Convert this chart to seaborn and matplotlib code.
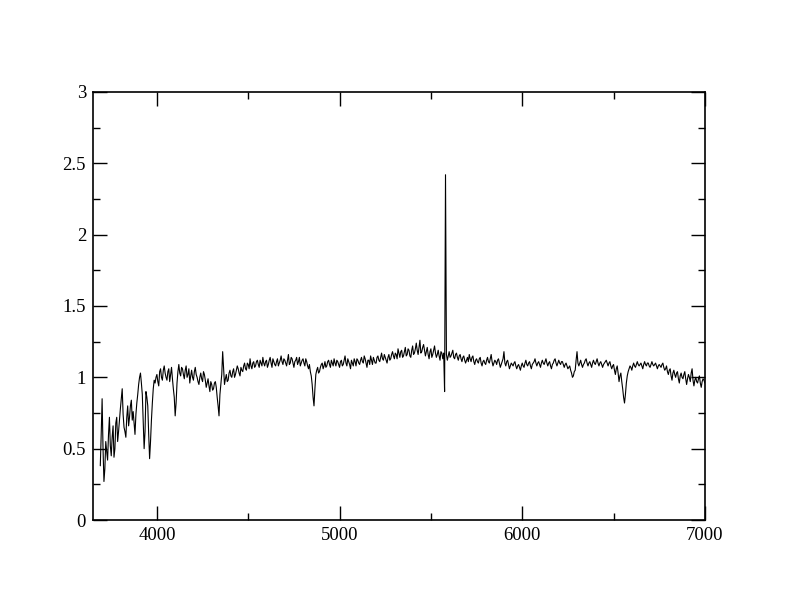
import matplotlib

matplotlib.use("Agg")
import matplotlib.pyplot as plt  # noqa: E402
import numpy as np  # noqa: E402
import seaborn as sns  # noqa: E402
from matplotlib.ticker import MultipleLocator  # noqa: E402

# ---------------------------------------------------------------------------
# Data: flux.
# "flux_*" rows hold the samples at 3690, 3700, ... 7000 A,
# "half_*" rows the samples in between (3695, 3705, ... 6995 A).
# ---------------------------------------------------------------------------
WAVE_START = 3690
WAVE_STEP = 5

flux_3690 = [0.38, 0.85, 0.27, 0.55, 0.42, 0.72, 0.45, 0.66, 0.50, 0.72]
flux_3790 = [0.62, 0.78, 0.92, 0.65, 0.58, 0.80, 0.72, 0.84, 0.76, 0.60]
flux_3890 = [0.82, 0.95, 1.03, 0.88, 0.50, 0.90, 0.80, 0.43, 0.70, 0.92]
flux_3990 = [0.96, 1.02, 0.94, 1.06, 0.98, 1.08, 1.00, 1.04, 0.97, 1.07]
flux_4090 = [0.92, 0.73, 0.96, 1.09, 1.01, 1.06, 0.99, 1.08, 1.02, 0.96]
flux_4190 = [1.05, 0.98, 1.07, 1.00, 0.95, 1.03, 0.97, 1.02, 0.93, 0.99]
flux_4290 = [0.90, 0.95, 0.92, 0.97, 0.86, 0.73, 0.95, 1.18, 0.95, 1.02]
flux_4390 = [0.98, 1.05, 1.00, 1.06, 1.02, 1.08, 1.03, 1.07, 1.04, 1.10]
flux_4490 = [1.05, 1.09, 1.13, 1.06, 1.11, 1.08, 1.12, 1.07, 1.10, 1.14]
flux_4590 = [1.08, 1.12, 1.09, 1.14, 1.07, 1.11, 1.08, 1.13, 1.10, 1.15]
flux_4690 = [1.09, 1.12, 1.08, 1.16, 1.10, 1.13, 1.07, 1.12, 1.09, 1.14]
flux_4790 = [1.10, 1.13, 1.08, 1.11, 1.06, 1.04, 0.95, 0.80, 1.02, 1.07]
flux_4890 = [1.04, 1.09, 1.06, 1.11, 1.08, 1.12, 1.07, 1.10, 1.13, 1.08]
flux_4990 = [1.11, 1.07, 1.12, 1.09, 1.15, 1.08, 1.11, 1.06, 1.10, 1.13]
flux_5090 = [1.08, 1.12, 1.09, 1.14, 1.10, 1.13, 1.07, 1.12, 1.15, 1.09]
flux_5190 = [1.12, 1.10, 1.15, 1.11, 1.17, 1.12, 1.14, 1.10, 1.16, 1.13]
flux_5290 = [1.18, 1.13, 1.16, 1.20, 1.14, 1.19, 1.15, 1.21, 1.16, 1.19]
flux_5390 = [1.14, 1.22, 1.17, 1.24, 1.16, 1.26, 1.18, 1.23, 1.15, 1.21]
flux_5490 = [1.13, 1.20, 1.16, 1.22, 1.14, 1.19, 1.12, 1.17, 1.17, 2.42]
flux_5590 = [1.12, 1.18, 1.15, 1.19, 1.13, 1.17, 1.12, 1.16, 1.11, 1.15]
flux_5690 = [1.10, 1.14, 1.16, 1.11, 1.15, 1.09, 1.13, 1.10, 1.14, 1.08]
flux_5790 = [1.12, 1.09, 1.14, 1.10, 1.16, 1.08, 1.12, 1.09, 1.13, 1.07]
flux_5890 = [1.11, 1.18, 1.08, 1.12, 1.06, 1.10, 1.08, 1.11, 1.06, 1.09]
flux_5990 = [1.05, 1.10, 1.07, 1.12, 1.08, 1.11, 1.06, 1.10, 1.13, 1.08]
flux_6090 = [1.11, 1.07, 1.12, 1.09, 1.13, 1.08, 1.11, 1.06, 1.10, 1.13]
flux_6190 = [1.08, 1.12, 1.09, 1.11, 1.07, 1.10, 1.06, 1.08, 1.03, 1.01]
flux_6290 = [1.05, 1.18, 1.08, 1.12, 1.07, 1.10, 1.13, 1.08, 1.11, 1.07]
flux_6390 = [1.12, 1.09, 1.13, 1.08, 1.11, 1.07, 1.10, 1.12, 1.08, 1.11]
flux_6490 = [1.06, 1.09, 1.02, 1.08, 0.97, 1.03, 0.92, 0.82, 0.96, 1.04]
flux_6590 = [1.08, 1.05, 1.10, 1.07, 1.11, 1.08, 1.10, 1.06, 1.11, 1.08]
flux_6690 = [1.10, 1.07, 1.11, 1.08, 1.10, 1.06, 1.09, 1.07, 1.10, 1.05]
flux_6790 = [1.08, 1.02, 1.06, 0.98, 1.05, 1.00, 1.04, 0.96, 1.03, 0.99]
flux_6890 = [1.04, 0.95, 1.02, 0.97, 1.06, 0.94, 1.00, 0.96, 1.01, 0.93,
             0.99, 0.96]

half_3695 = [0.60, 0.50, 0.36, 0.48, 0.60, 0.52, 0.58, 0.44, 0.68, 0.55]
half_3795 = [0.70, 0.85, 0.74, 0.62, 0.72, 0.66, 0.80, 0.70, 0.68, 0.74]
half_3895 = [0.88, 1.00, 0.96, 0.70, 0.62, 0.86, 0.60, 0.55, 0.82, 0.98]
half_3995 = [1.00, 0.97, 1.04, 1.00, 1.05, 1.03, 0.98, 1.06, 1.02, 0.99]
half_4095 = [0.86, 0.82, 1.04, 1.03, 1.07, 1.02, 1.05, 1.00, 1.06, 1.01]
half_4195 = [1.00, 1.04, 1.02, 0.97, 1.00, 0.99, 1.04, 0.98, 0.96, 0.94]
half_4295 = [0.97, 0.91, 0.96, 0.93, 0.80, 0.88, 1.02, 1.06, 0.99, 0.97]
half_4395 = [1.03, 1.01, 1.04, 1.00, 1.05, 1.06, 1.01, 1.05, 1.08, 1.06]
half_4495 = [1.10, 1.06, 1.08, 1.10, 1.07, 1.11, 1.09, 1.12, 1.08, 1.10]
half_4595 = [1.11, 1.07, 1.12, 1.10, 1.13, 1.09, 1.11, 1.08, 1.12, 1.11]
half_4695 = [1.13, 1.10, 1.12, 1.09, 1.14, 1.10, 1.11, 1.14, 1.11, 1.08]
half_4795 = [1.12, 1.10, 1.13, 1.08, 1.09, 1.01, 0.86, 0.92, 1.05, 1.03]
half_4895 = [1.07, 1.10, 1.08, 1.07, 1.11, 1.09, 1.12, 1.08, 1.10, 1.12]
half_4995 = [1.09, 1.11, 1.08, 1.12, 1.10, 1.13, 1.09, 1.12, 1.08, 1.11]
half_5095 = [1.13, 1.10, 1.12, 1.11, 1.15, 1.10, 1.12, 1.09, 1.12, 1.14]
half_5195 = [1.10, 1.14, 1.12, 1.14, 1.13, 1.16, 1.12, 1.14, 1.12, 1.16]
half_5295 = [1.15, 1.17, 1.13, 1.17, 1.18, 1.14, 1.18, 1.15, 1.20, 1.15]
half_5395 = [1.19, 1.16, 1.20, 1.19, 1.21, 1.17, 1.21, 1.19, 1.18, 1.16]
half_5495 = [1.18, 1.14, 1.19, 1.17, 1.16, 1.15, 1.18, 1.13, 0.90, 1.16]
half_5595 = [1.15, 1.14, 1.17, 1.14, 1.16, 1.14, 1.15, 1.13, 1.14, 1.12]
half_5695 = [1.12, 1.11, 1.13, 1.14, 1.11, 1.12, 1.11, 1.13, 1.10, 1.11]
half_5795 = [1.10, 1.12, 1.11, 1.13, 1.11, 1.10, 1.11, 1.12, 1.10, 1.09]
half_5895 = [1.13, 1.10, 1.11, 1.09, 1.08, 1.09, 1.10, 1.08, 1.08, 1.07]
half_5995 = [1.08, 1.08, 1.10, 1.09, 1.10, 1.08, 1.09, 1.11, 1.10, 1.10]
half_6095 = [1.09, 1.10, 1.10, 1.11, 1.10, 1.10, 1.08, 1.09, 1.12, 1.10]
half_6195 = [1.10, 1.10, 1.11, 1.09, 1.09, 1.08, 1.07, 1.05, 1.00, 1.04]
half_6295 = [1.12, 1.10, 1.10, 1.09, 1.09, 1.12, 1.10, 1.10, 1.09, 1.10]
half_6395 = [1.10, 1.11, 1.10, 1.10, 1.09, 1.09, 1.11, 1.10, 1.10, 1.08]
half_6495 = [1.08, 1.05, 1.06, 1.03, 1.01, 0.97, 0.86, 0.88, 1.01, 1.06]
half_6595 = [1.07, 1.08, 1.08, 1.09, 1.09, 1.09, 1.08, 1.09, 1.09, 1.10]
half_6695 = [1.08, 1.09, 1.09, 1.09, 1.08, 1.08, 1.08, 1.09, 1.07, 1.06]
half_6795 = [1.04, 1.05, 1.01, 1.03, 1.02, 1.03, 0.99, 1.01, 1.00, 1.02]
half_6895 = [0.99, 0.99, 1.00, 1.03, 0.98, 0.98, 0.97, 0.99, 0.96, 0.97,
             0.98]

flux_main = np.concatenate([
    flux_3690, flux_3790, flux_3890, flux_3990, flux_4090, flux_4190,
    flux_4290, flux_4390, flux_4490, flux_4590, flux_4690, flux_4790,
    flux_4890, flux_4990, flux_5090, flux_5190, flux_5290, flux_5390,
    flux_5490, flux_5590, flux_5690, flux_5790, flux_5890, flux_5990,
    flux_6090, flux_6190, flux_6290, flux_6390, flux_6490, flux_6590,
    flux_6690, flux_6790, flux_6890,
])
flux_half = np.concatenate([
    half_3695, half_3795, half_3895, half_3995, half_4095, half_4195,
    half_4295, half_4395, half_4495, half_4595, half_4695, half_4795,
    half_4895, half_4995, half_5095, half_5195, half_5295, half_5395,
    half_5495, half_5595, half_5695, half_5795, half_5895, half_5995,
    half_6095, half_6195, half_6295, half_6395, half_6495, half_6595,
    half_6695, half_6795, half_6895,
])

# interleave the two sample sets into one spectrum
flux = np.empty(len(flux_main) + len(flux_half))
flux[0::2] = flux_main
flux[1::2] = flux_half
wave = WAVE_START + WAVE_STEP * np.arange(len(flux))

# ---------------------------------------------------------------------------
# Plot
# ---------------------------------------------------------------------------
sns.set_style("ticks")
plt.rcParams["font.family"] = ["Liberation Serif", "DejaVu Serif"]

fig = plt.figure(figsize=(7.92, 6.12), dpi=100)
ax = fig.add_axes([0.1174, 0.1503, 0.7726, 0.6994])

sns.lineplot(x=wave, y=flux, color="black", linewidth=0.8, ax=ax,
             estimator=None, sort=False)

ax.set_xlim(3650, 7000)
ax.set_ylim(0, 3)
ax.xaxis.set_major_locator(MultipleLocator(1000))
ax.xaxis.set_minor_locator(MultipleLocator(500))
ax.yaxis.set_minor_locator(MultipleLocator(0.25))
ax.set_yticks([0, 0.5, 1, 1.5, 2, 2.5, 3])
ax.set_yticklabels(["0", "0.5", "1", "1.5", "2", "2.5", "3"])

ax.tick_params(which="both", direction="in", top=True, right=True,
               colors="black", labelsize=13.5, width=1.0)
ax.tick_params(which="major", length=10, pad=5)
ax.tick_params(which="minor", length=5)
for side in ax.spines.values():
    side.set_linewidth(1.2)
    side.set_color("black")
ax.set_xlabel("")
ax.set_ylabel("")

fig.savefig("out.png", dpi=100)
